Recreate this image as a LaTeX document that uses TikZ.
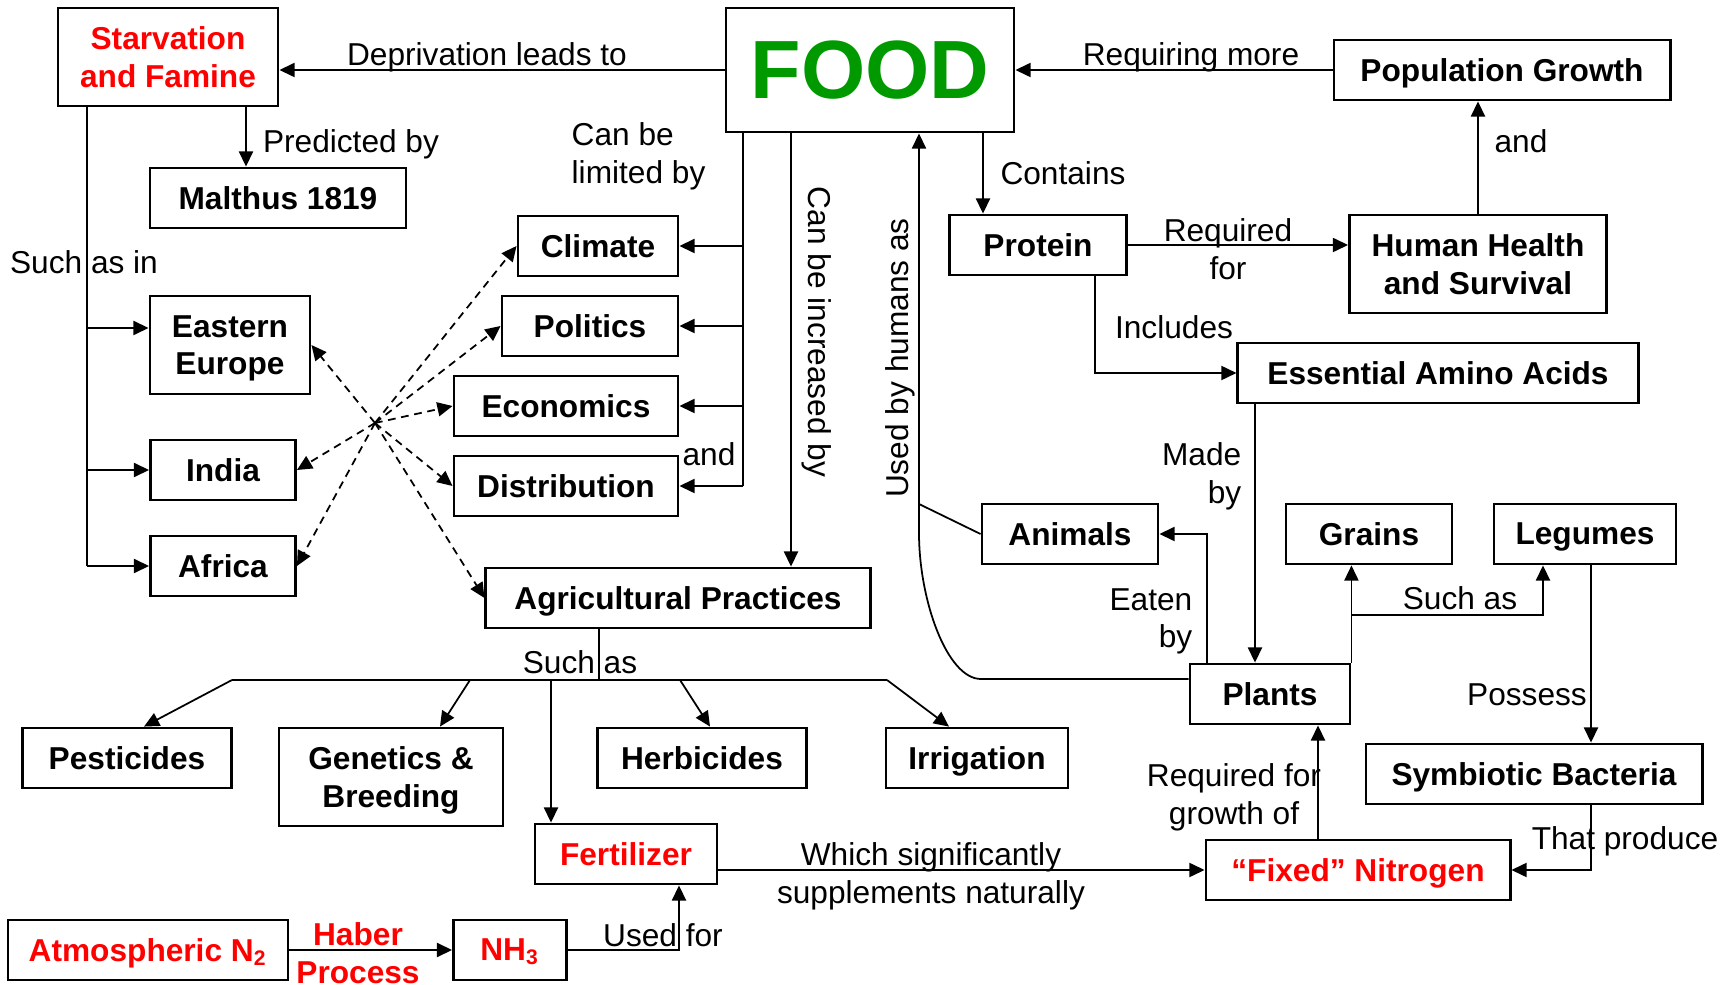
\documentclass[tikz,border=0pt]{standalone}
\usepackage{fontspec}
\setmainfont{Liberation Sans}
\usetikzlibrary{positioning}
\usetikzlibrary{arrows.meta}
\definecolor{foodgreen}{RGB}{0,153,0}
\newcommand{\mapfont}{\fontsize{9}{10.7}\selectfont}
\tikzset{
    box/.style={
        draw,
        line width=0.8pt,
        font=\mapfont\bfseries,
        align=center,
        inner sep=0pt,
        text depth=0pt,
        minimum height=0.6cm
    },
    redbox/.style={
        box,
        text=red
    },
    link/.style={
        draw,
        line width=0.5pt
    },
    arr/.style={
        link,
        -{Triangle[length=4.3pt,width=4pt]}
    },
    dasharr/.style={
        arr,
        dash pattern=on 2.2pt off 1.6pt
    },
    lbl/.style={
        font=\mapfont,
        align=center,
        inner sep=0pt,
        text depth=0pt
    }
}

\begin{document}
\begin{tikzpicture}[x=0.01cm, y=-0.01cm]
    \useasboundingbox (0,0) rectangle (1732,985);

    \node[redbox, minimum width=2.2cm, minimum height=0.98cm] (starv) at (168,57) {Starvation\\and Famine};
    \node[box, minimum width=2.88cm, minimum height=1.24cm, text=foodgreen, font=\fontsize{23.5}{28}\selectfont\bfseries] (food) at (870,70) {FOOD};
    \node[box, minimum width=3.36cm] (pop) at (1502,70) {Population Growth};
    \node[box, minimum width=2.56cm] (malthus) at (278,198) {Malthus 1819};
    \node[box, minimum width=1.6cm] (climate) at (598,246) {Climate};
    \node[box, minimum width=1.77cm] (protein) at (1038,245) {Protein};
    \node[box, minimum width=2.57cm, minimum height=0.98cm] (health) at (1478,264) {Human Health\\and Survival};
    \node[box, minimum width=1.6cm, minimum height=0.98cm] (eeurope) at (230,345) {Eastern\\Europe};
    \node[box, minimum width=1.76cm] (politics) at (590,326) {Politics};
    \node[box, minimum width=4cm] (amino) at (1438,373) {Essential Amino Acids};
    \node[box, minimum width=2.24cm] (economics) at (566,406) {Economics};
    \node[box, minimum width=1.45cm] (india) at (223,470) {India};
    \node[box, minimum width=2.24cm] (distrib) at (566,486) {Distribution};
    \node[box, minimum width=1.76cm] (animals) at (1070,534) {Animals};
    \node[box, minimum width=1.66cm] (grains) at (1369,534) {Grains};
    \node[box, minimum width=1.82cm] (legumes) at (1585,534) {Legumes};
    \node[box, minimum width=1.45cm] (africa) at (223,566) {Africa};
    \node[box, minimum width=3.84cm] (agri) at (678,598) {Agricultural Practices};
    \node[box, minimum width=1.6cm] (plants) at (1270,694) {Plants};
    \node[box, minimum width=2.09cm] (pest) at (127,758) {Pesticides};
    \node[box, minimum width=2.24cm, minimum height=0.98cm] (genetics) at (391,777) {Genetics \&\\Breeding};
    \node[box, minimum width=2.09cm] (herb) at (702,758) {Herbicides};
    \node[box, minimum width=1.82cm] (irrig) at (977,758) {Irrigation};
    \node[box, minimum width=3.36cm] (symb) at (1534,774) {Symbiotic Bacteria};
    \node[redbox, minimum width=1.82cm] (fert) at (626,854) {Fertilizer};
    \node[redbox, minimum width=3.04cm] (fixed) at (1358,870) {“Fixed” Nitrogen};
    \node[redbox, minimum width=2.8cm] (atmos) at (148,950) {Atmospheric N\textsubscript{2}};
    \node[redbox, minimum width=1.13cm] (nh3) at (510,950) {NH\textsubscript{3}};

    % top row
    \draw[arr] (food.west) -- (food.west -| starv.east);
    \node[lbl] (ldep) at (487,54) {Deprivation leads to};
    \draw[arr] (pop.west) -- (pop.west -| food.east);
    \node[lbl] (lreq) at (1191,54) {Requiring more};

    \coordinate (predx) at (246,0);
    \draw[arr] (starv.south -| predx) -- (malthus.north -| predx);
    \node[lbl] (lpred) at (351,141) {Predicted by};

    % regions
    \coordinate (suchx) at (87,0);
    \coordinate (eein) at ([yshift=0.17cm]eeurope.west);
    \draw[link] (starv.south -| suchx) -- (africa.west -| suchx);
    \draw[arr] (eein -| suchx) -- (eein);
    \draw[arr] (india.west -| suchx) -- (india.west);
    \draw[arr] (africa.west -| suchx) -- (africa.west);
    \node[lbl] (lsuchin) at (84,262) {Such as in};

    % limits
    \coordinate (limx) at (743,0);
    \draw[link] (food.south -| limx) -- (distrib.east -| limx);
    \draw[arr] (climate.east -| limx) -- (climate.east);
    \draw[arr] (politics.east -| limx) -- (politics.east);
    \draw[arr] (economics.east -| limx) -- (economics.east);
    \draw[arr] (distrib.east -| limx) -- (distrib.east);
    \node[lbl, align=left, anchor=west] (llim) at (571,153) {Can be\\limited by};
    \node[lbl] (land) at (709,454) {and};

    \coordinate (incx) at (791,0);
    \draw[arr] (food.south -| incx) -- (agri.north -| incx);
    \node[lbl, rotate=-90, text depth=1.9pt] (linc) at (817,332) {Can be increased by};

    % dashed cross links
    \coordinate (hub) at (375,423);
    \draw[dasharr] (hub) -- (climate.west);
    \draw[dasharr] (hub) -- (politics.west);
    \draw[dasharr] (hub) -- (economics.west);
    \draw[dasharr] (hub) -- (distrib.west);
    \draw[dasharr] (hub) -- (agri.west);
    \draw[dasharr] (hub) -- (eeurope.east);
    \draw[dasharr] (hub) -- (india.east);
    \draw[dasharr] (hub) -- (africa.east);

    % protein side
    \coordinate (conx) at (983,0);
    \draw[arr] (food.south -| conx) -- (protein.north -| conx);
    \node[lbl] (lcon) at (1063,173) {Contains};
    \draw[arr] (protein.east) -- (protein.east -| health.west);
    \node[lbl] (lreqfor) at (1228,249) {Required\\for};
    \draw[arr] (health.north) -- (health.north |- pop.south);
    \node[lbl] (land2) at (1521,141) {and};

    \coordinate (inclx) at (1095,0);
    \draw[arr] (protein.south -| inclx) |- (amino.west);
    \node[lbl] (linc2) at (1174,327) {Includes};

    \coordinate (madex) at (1255,0);
    \draw[arr] (amino.south -| madex) -- (plants.north -| madex);
    \node[lbl, align=right, anchor=east] (lmade) at (1242,473) {Made\\by};

    \coordinate (eatx) at (1207,0);
    \draw[arr] (plants.north -| eatx) |- (animals.east);
    \node[lbl, align=right, anchor=east] (leat) at (1193,618) {Eaten\\by};

    % used by humans
    \coordinate (usex) at (919,0);
    \coordinate (usein) at ([yshift=0.15cm]plants.west);
    \coordinate (ub1) at (981,679);
    \coordinate (ub2) at (919,533);
    \coordinate (ujoin) at (919,504);
    \draw[arr] (usein) -- (ub1) .. controls (947,679) and (919,600) .. (ub2) -- (food.south -| usex);
    \draw[link] (animals.west) -- (ujoin);
    \node[lbl, rotate=90, text depth=1.9pt] (luse) at (900,358) {Used by humans as};

    % grains and legumes
    \coordinate (suchy) at (0,615);
    \coordinate (legx) at (1543,0);
    \draw[arr] (plants.north east) -- (plants.north east |- grains.south);
    \draw[arr] (plants.north east |- suchy) -| (legx |- legumes.south);
    \node[lbl] (lsuch2) at (1460,598) {Such as};

    \coordinate (posx) at (1591,0);
    \draw[arr] (legumes.south -| posx) -- (symb.north -| posx);
    \node[lbl] (lpos) at (1527,695) {Possess};
    \draw[arr] (symb.south -| posx) |- (fixed.east);
    \node[lbl] (lprod) at (1625,838) {That produce};

    \coordinate (growx) at (1318,0);
    \draw[arr] (fixed.north -| growx) -- (plants.south -| growx);
    \node[lbl] (lgrow) at (1234,794) {Required for\\growth of};

    \draw[arr] (fixed.west -| fert.east) -- (fixed.west);
    \node[lbl] (lsupp) at (931,873) {Which significantly\\supplements naturally};

    % practices
    \coordinate (agrx) at (599,0);
    \coordinate (agry) at (0,680);
    \coordinate (barl) at (232,680);
    \coordinate (barr) at (887,680);
    \coordinate (gens) at (470,680);
    \coordinate (herbs) at (680,680);
    \coordinate (fertx) at (551,0);
    \draw[link] (agri.south -| agrx) -- (agry -| agrx);
    \draw[link] (barl) -- (barr);
    \draw[arr] (barl) -- ([xshift=0.17cm]pest.north);
    \draw[arr] (gens) -- ([xshift=0.49cm]genetics.north);
    \draw[arr] (agry -| fertx) -- (fert.north -| fertx);
    \draw[arr] (herbs) -- ([xshift=0.08cm]herb.north);
    \draw[arr] (barr) -- ([xshift=-0.28cm]irrig.north);
    \node[lbl] (lsuch3) at (580,662) {Such as};

    % haber
    \draw[arr] (atmos.east) -- (nh3.west);
    \node[lbl, text=red, font=\mapfont\bfseries] (lhab) at (358,953) {Haber\\Process};
    \coordinate (usedx) at (679,0);
    \draw[arr] (nh3.east) -| (fert.south -| usedx);
    \node[lbl] (lused) at (663,935) {Used for};

\end{tikzpicture}
\end{document}
